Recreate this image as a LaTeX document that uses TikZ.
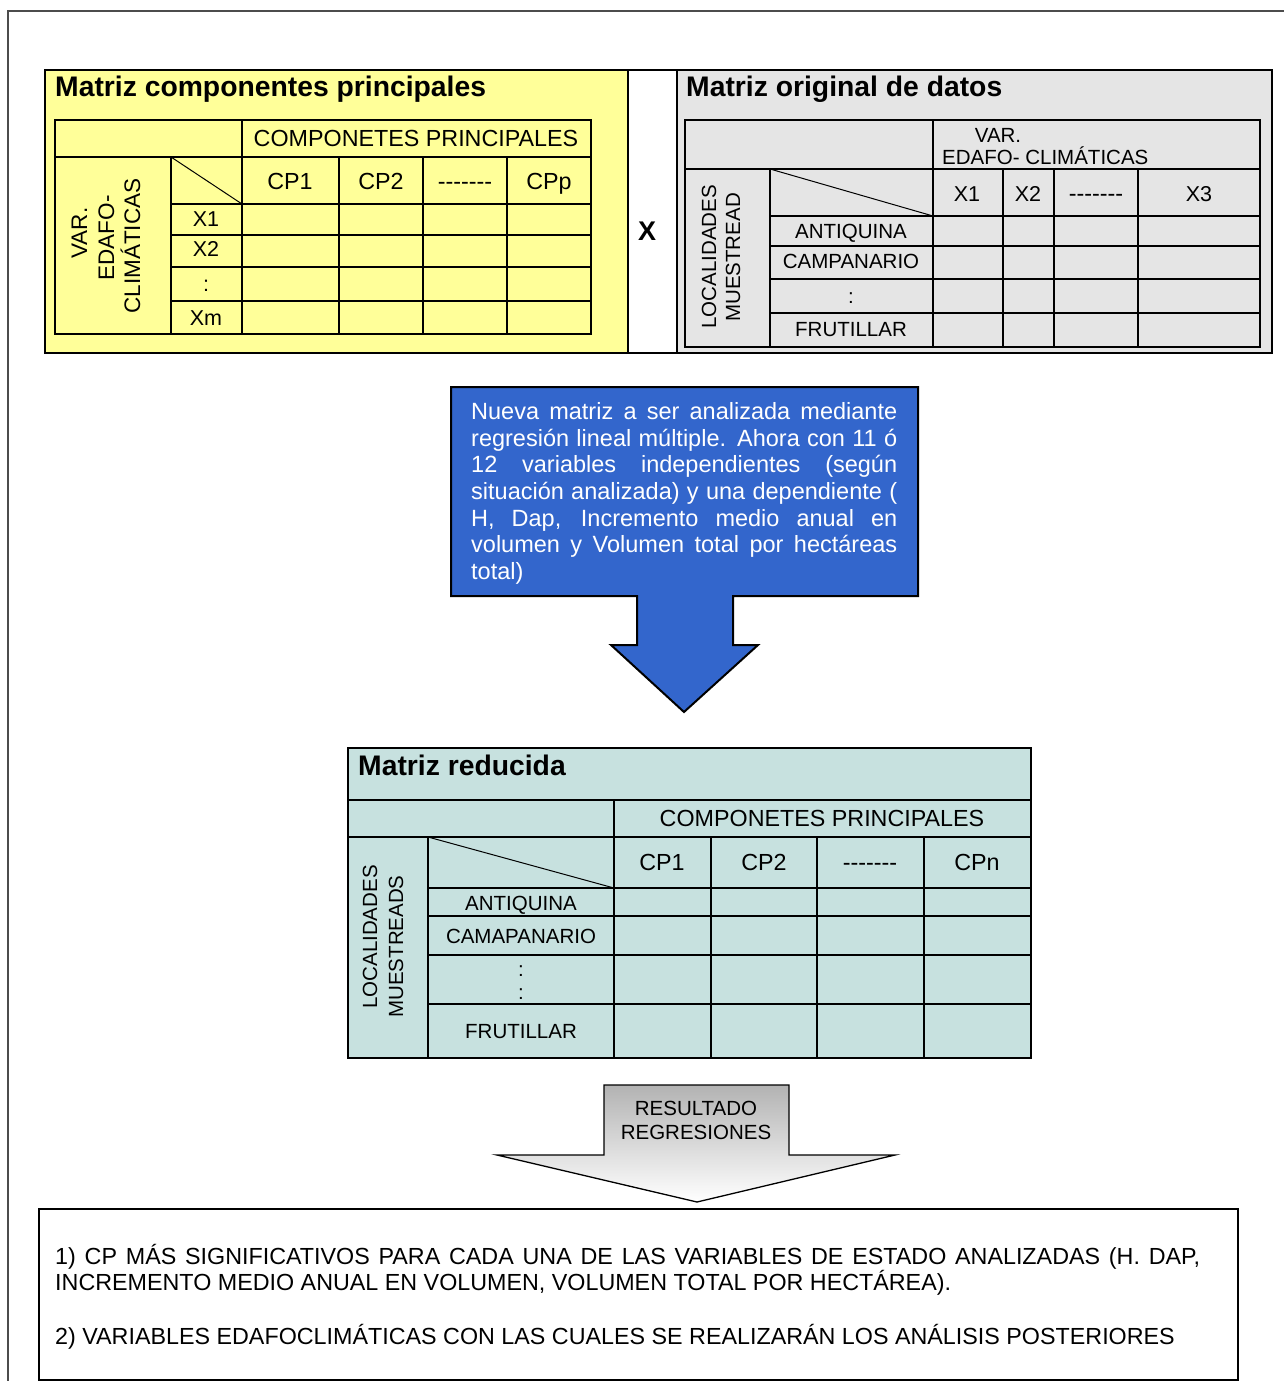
\documentclass[tikz,border=0pt]{standalone}
\usepackage{fontspec}
\setmainfont{Liberation Sans}
\definecolor{ylw}{HTML}{FFFF99}
\definecolor{gry}{HTML}{E5E5E5}
\definecolor{tealbg}{HTML}{C7E1DF}
\definecolor{blu}{HTML}{3366CC}
\newcommand\mydashes{-\kern0pt-\kern0pt-\kern0pt-\kern0pt-\kern0pt-\kern0pt-}
\begin{document}
\begin{tikzpicture}[x=1pt,y=-1pt,
  hdr/.style={anchor=base, inner sep=0, font=\fontsize{23.3}{26}\selectfont},
  lbl/.style={anchor=base, inner sep=0, font=\fontsize{20.5}{24}\selectfont},
  xl/.style={anchor=base, inner sep=0, font=\fontsize{21.5}{24}\selectfont},
  ttl/.style={anchor=base west, inner sep=0, font=\bfseries\fontsize{28.3}{32}\selectfont},
  rotl/.style={anchor=base, inner sep=0, rotate=90, font=\fontsize{20.5}{24}\selectfont},
  roty/.style={anchor=base, inner sep=0, rotate=90, font=\fontsize{22.5}{26}\selectfont},
  gridl/.style={line width=2pt, line cap=rect},
  diag/.style={line width=1pt},
  panel/.style={line width=2.5pt},
  body/.style={anchor=base west, inner sep=0, font=\fontsize{23.3}{26}\selectfont}
]
\useasboundingbox (0,0) rectangle (1284,1381);
% outer frame
\draw[black!70, line width=2pt] (8,1381) -- (8,11) -- (1284,11);

% ===== top panels =====
\fill[ylw] (45,70) rectangle (628,353);
\fill[gry] (677,70) rectangle (1272,353);
\draw[panel] (45,70) rectangle (1272,353);
\draw[panel] (628,70) -- (628,353);
\draw[panel] (677,70) -- (677,353);

% yellow table
\node[ttl] (t1) at (55,96.7) {Matriz componentes principales};
\draw[gridl] (55,120) rectangle (591,334);
\draw[gridl] (55,157) -- (591,157);
\foreach \yy in {204,235,267,301} \draw[gridl] (171,\yy) -- (591,\yy);
\draw[gridl] (242,120) -- (242,334);
\draw[gridl] (171,157) -- (171,334);
\foreach \xx in {339,423,507} \draw[gridl] (\xx,157) -- (\xx,334);
\draw[diag] (171,157) -- (242,204);
\node[hdr] (ycp) at (416,146.7) {COMPONETES PRINCIPALES};
\node[hdr] (ycp1) at (290,189.3) {CP1};
\node[hdr] (ycp2) at (381,189.3) {CP2};
\node[hdr] (ycpd) at (465,189.3) {\mydashes};
\node[hdr] (ycpp) at (549,189.3) {CPp};
\node[xl] (yx1) at (206,226.7) {X1};
\node[xl] (yx2) at (206,256.7) {X2};
\node[xl] (yxd) at (206,291) {:};
\node[xl] (yxm) at (206,325) {Xm};
\node[roty] (yv1) at (87,233) {VAR.};
\node[roty] (yv2) at (114,238) {EDAFO-};
\node[roty] (yv3) at (140,246) {CLIMÁTICAS};

% X sign
\node[anchor=base, inner sep=0, font=\bfseries\fontsize{27}{30}\selectfont] (times) at (647,240) {X};

% gray table
\node[ttl] (t2) at (686,96.7) {Matriz original de datos};
\draw[gridl] (685,120) rectangle (1260,347);
\draw[gridl] (685,169) -- (1260,169);
\foreach \yy in {216,246,279,313} \draw[gridl] (770,\yy) -- (1260,\yy);
\draw[gridl] (933,120) -- (933,347);
\draw[gridl] (770,169) -- (770,347);
\foreach \xx in {1003,1054,1138} \draw[gridl] (\xx,169) -- (\xx,347);
\draw[diag] (770,169) -- (933,216);
\node[lbl] (gvar) at (998,142) {VAR.};
\node[lbl, anchor=base west] (gedaf) at (942,164.5) {EDAFO- CLIMÁTICAS};
\node[xl] (gx1) at (967,201.7) {X1};
\node[xl] (gx2) at (1028,201.7) {X2};
\node[hdr] (gxd) at (1096,201.7) {\mydashes};
\node[xl] (gx3) at (1199,201.7) {X3};
\node[lbl] (ga) at (851,238.3) {ANTIQUINA};
\node[lbl] (gc) at (851,268.3) {CAMPANARIO};
\node[lbl] (gd) at (851,303) {:};
\node[lbl] (gf) at (851,336.7) {FRUTILLAR};
\node[rotl] (gl1) at (716,256.7) {LOCALIDADES};
\node[rotl] (gl2) at (740,257.5) {MUESTREAD};

% ===== blue callout =====
\draw[fill=blu, line width=2pt, line join=miter] (451,387) -- (918,387) -- (918,596) -- (733,596) -- (733,645) -- (758,645) -- (684,712) -- (611,645) -- (637,645) -- (637,596) -- (451,596) -- cycle;
\node[anchor=base west, inner sep=0, align=left, text=white, font=\fontsize{23.5}{26.7}\selectfont] (bluetext) at (471,579.5)
{\makebox[426pt][s]{Nueva matriz a ser analizada mediante}\\
\makebox[426pt][s]{regresión lineal múltiple. Ahora con 11 ó}\\
\makebox[426pt][s]{12 variables independientes (según}\\
\makebox[426pt][s]{situación analizada) y una dependiente (}\\
\makebox[426pt][s]{H, Dap, Incremento medio anual en}\\
\makebox[426pt][s]{volumen y Volumen total por hectáreas}\\
total)};

% ===== middle table =====
\fill[tealbg] (348,748) rectangle (1031,1058);
\draw[gridl] (348,748) rectangle (1031,1058);
\draw[gridl] (348,800) -- (1031,800);
\draw[gridl] (348,837) -- (1031,837);
\foreach \yy in {888,916,955,1004} \draw[gridl] (428,\yy) -- (1031,\yy);
\draw[gridl] (614,800) -- (614,1058);
\draw[gridl] (428,837) -- (428,1058);
\foreach \xx in {711,817,924} \draw[gridl] (\xx,837) -- (\xx,1058);
\draw[diag] (428,837) -- (614,888);
\node[ttl] (t3) at (358,775) {Matriz reducida};
\node[hdr] (mcp) at (822,826) {COMPONETES PRINCIPALES};
\node[hdr] (mcp1) at (662,870.7) {CP1};
\node[hdr] (mcp2) at (764,870.7) {CP2};
\node[hdr] (mcpd) at (870,870.7) {\mydashes};
\node[hdr] (mcpn) at (977,870.7) {CPn};
\node[lbl] (ma) at (521,910) {ANTIQUINA};
\node[lbl] (mc) at (521,943.3) {CAMAPANARIO};
\node[lbl] (md1) at (521,976) {:};
\node[lbl] (md2) at (521,999) {:};
\node[lbl] (mf) at (521,1038.3) {FRUTILLAR};
\node[rotl] (ml1) at (377,937) {LOCALIDADES};
\node[rotl] (ml2) at (403,946.5) {MUESTREADS};

% ===== result arrow =====
\shade[top color=black!30, bottom color=white] (604,1085) -- (789,1085) -- (789,1155) -- (895,1155) -- (697,1202) -- (497,1155) -- (604,1155) -- cycle;
\draw[line width=1.3pt, line join=miter] (604,1085) -- (789,1085) -- (789,1155) -- (895,1155) -- (697,1202) -- (497,1155) -- (604,1155) -- cycle;
\node[anchor=base, inner sep=0, align=center, font=\fontsize{20.5}{24}\selectfont] (res) at (696,1139) {RESULTADO\\REGRESIONES};

% ===== bottom box =====
\draw[line width=2pt] (39,1209) rectangle (1238,1380);
\node[body] (r1) at (55,1264) {\makebox[1145pt][s]{1) CP MÁS SIGNIFICATIVOS PARA CADA UNA DE LAS VARIABLES DE ESTADO ANALIZADAS (H. DAP,}};
\node[body] (r2) at (55,1290) {INCREMENTO MEDIO ANUAL EN VOLUMEN, VOLUMEN TOTAL POR HECTÁREA).};
\node[body] (r3) at (55,1344) {2) VARIABLES EDAFOCLIMÁTICAS CON LAS CUALES SE REALIZARÁN LOS ANÁLISIS POSTERIORES};
\end{tikzpicture}
\end{document}
